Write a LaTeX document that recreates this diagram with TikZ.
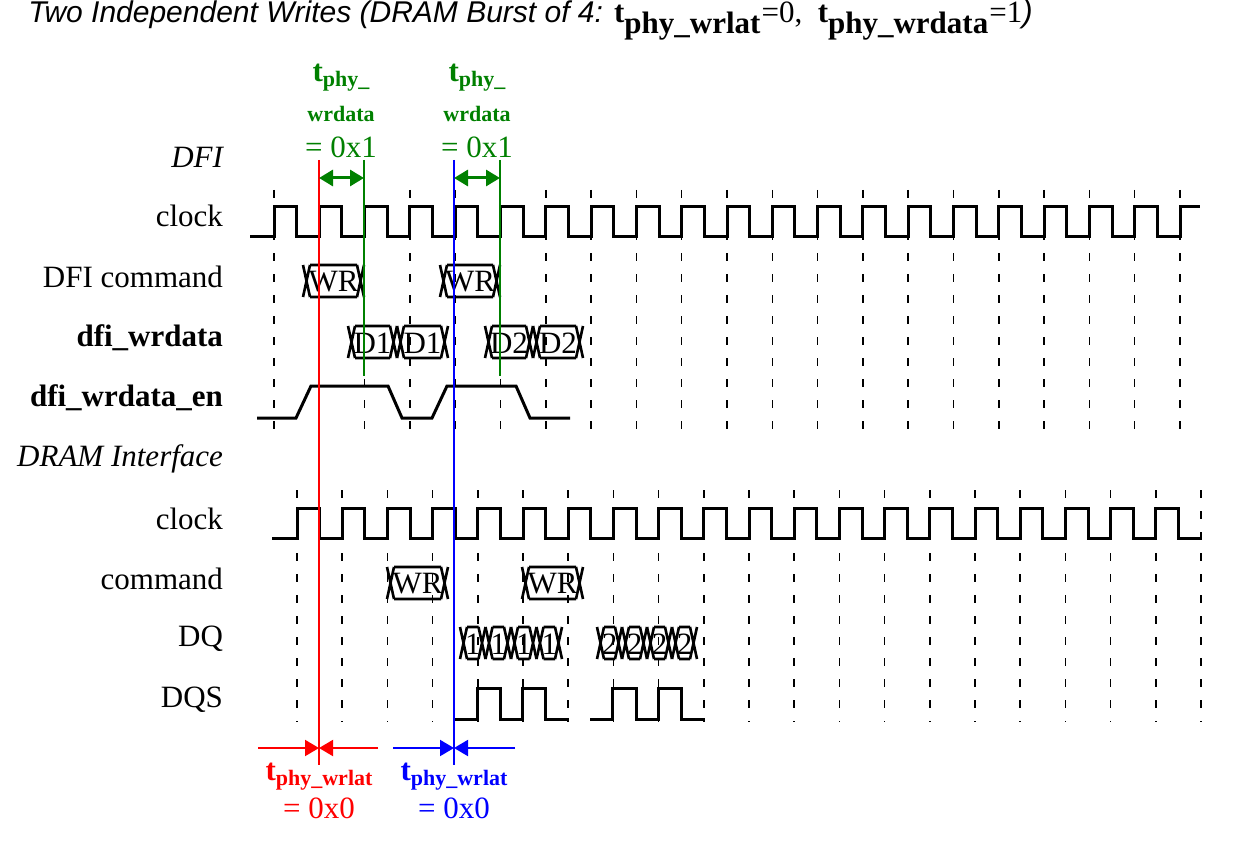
\documentclass[tikz,border=0pt]{standalone}
\usepackage{fontspec}
\setmainfont{Liberation Serif}
\newfontfamily\titlefont{Liberation Sans}
\usetikzlibrary{arrows.meta}
\definecolor{dkgreen}{RGB}{0,128,0}

% one bus value with crossing ends: x1, x2, top, text
\newcommand{\busseg}[4]{%
  \draw[sig,line width=1.3pt] (#1,#3) -- (#1+7,#3+32) (#1,#3+32) -- (#1+7,#3)
    (#1+7,#3) -- (#2-7,#3) (#1+7,#3+32) -- (#2-7,#3+32)
    (#2-7,#3) -- (#2,#3+32) (#2-7,#3+32) -- (#2,#3);
  \node[lbl,inner sep=0pt] at ({(#1+#2)/2},#3+17) {#4};%
}

\begin{document}
\begin{tikzpicture}[x=0.5pt,y=-0.5pt,
  sig/.style={line width=1.5pt},
  tick/.style={line width=0.75pt,dash pattern=on 4pt off 6.5pt},
  lbl/.style={font=\fontsize{15.5}{18}\selectfont},
  signame/.style={lbl,anchor=east},
  small/.style={font=\fontsize{11}{13}\selectfont\bfseries}]
  \useasboundingbox (0,0) rectangle (1245,850);

  % title
  \node[anchor=west,inner sep=0pt] (title) at (28,20)
    {\titlefont\fontsize{15}{18}\selectfont\itshape Two Independent Writes (DRAM Burst of 4:
     \upshape\rmfamily\fontsize{15.5}{18}\selectfont$\textbf{t}_{\textbf{phy\_wrlat}}$=0,\ \ $\textbf{t}_{\textbf{phy\_wrdata}}$=1\itshape\titlefont)};

  % signal names
  \node[signame,font=\fontsize{15.5}{18}\selectfont\itshape] (ndfi) at (230,157) {DFI};
  \node[signame] (nclk) at (230,216) {clock};
  \node[signame] (ncmd) at (230,277) {DFI command};
  \node[signame,font=\fontsize{15.5}{18}\selectfont\bfseries] (nwd) at (230,338) {dfi\_wrdata};
  \node[signame,font=\fontsize{15.5}{18}\selectfont\bfseries] (nwden) at (230,398) {dfi\_wrdata\_en};
  \node[signame,font=\fontsize{15.5}{18}\selectfont\itshape] (ndram) at (230,459) {DRAM Interface};
  \node[signame] (nclk2) at (230,519) {clock};
  \node[signame] (ncmd2) at (230,579) {command};
  \node[signame] (ndq) at (230,639) {DQ};
  \node[signame] (ndqs) at (230,700) {DQS};

  % clock edges
  \foreach \k in {0,...,20} {
    \draw[tick] (274+45.3*\k,190) -- (274+45.3*\k,432);
    \draw[tick] (297+45.2*\k,490) -- (297+45.2*\k,722);
  }

  % DFI clock
  \draw[sig] (250,236) \foreach \k in {0,...,19} {
      -- (274+45.3*\k,236) -- (274+45.3*\k,206) -- (296.6+45.3*\k,206) -- (296.6+45.3*\k,236)}
    -- (1180,236) -- (1180,206) -- (1200,206);

  % DRAM clock
  \draw[sig] (272,538) \foreach \k in {0,...,19} {
      -- (297+45.2*\k,538) -- (297+45.2*\k,508) -- (319.6+45.2*\k,508) -- (319.6+45.2*\k,538)}
    -- (1200,538);

  % DFI command and data
  \busseg{303}{364}{265}{WR}
  \busseg{440}{500}{265}{WR}
  \busseg{348}{397}{326}{D1}
  \busseg{397}{448}{326}{D1}
  \busseg{485}{533}{326}{D2}
  \busseg{533}{583}{326}{D2}

  % dfi_wrdata_en
  \draw[sig] (257,418) -- (296,418) -- (311,386) -- (388,386) -- (402,418)
    -- (432,418) -- (447,386) -- (516,386) -- (530,418) -- (570,418);

  % DRAM command, DQ
  \busseg{387}{448}{567}{WR}
  \busseg{522}{583}{567}{WR}
  \foreach \a/\b in {460/485.5,485.5/511,511/536.5,536.5/562} {\busseg{\a}{\b}{627}{1}}
  \foreach \a/\b in {597/622,622/647,647/672,672/697} {\busseg{\a}{\b}{627}{2}}

  % DQS
  \draw[sig] (454,719) -- (477,719) -- (477,688) -- (500,688) -- (500,719) -- (522,719)
    -- (522,688) -- (545,688) -- (545,719) -- (569,719);
  \draw[sig] (590,719) -- (612,719) -- (612,688) -- (636,688) -- (636,719) -- (658,719)
    -- (658,688) -- (681,688) -- (681,719) -- (705,719);

  % latency markers
  \coordinate (rtop) at (319,160);  \coordinate (rbot) at (319,765);
  \coordinate (btop) at (454,160);  \coordinate (bbot) at (454,765);
  \coordinate (g1top) at (364,160); \coordinate (g1bot) at (364,376);
  \coordinate (g2top) at (500,160); \coordinate (g2bot) at (500,376);
  \draw[red,line width=1pt] (rtop) -- (rbot);
  \draw[blue,line width=1pt] (btop) -- (bbot);
  \draw[dkgreen,line width=1pt] (g1top) -- (g1bot);
  \draw[dkgreen,line width=1pt] (g2top) -- (g2bot);

  \coordinate (ga1) at (319,178); \coordinate (gb1) at (364,178);
  \coordinate (ga2) at (454,178); \coordinate (gb2) at (500,178);
  \draw[dkgreen,line width=1.5pt,{Triangle[length=7pt,width=8pt]}-{Triangle[length=7pt,width=8pt]}] (ga1) -- (gb1);
  \draw[dkgreen,line width=1.5pt,{Triangle[length=7pt,width=8pt]}-{Triangle[length=7pt,width=8pt]}] (ga2) -- (gb2);

  \foreach \x/\n in {341/g1,477/g2} {
    \node[dkgreen,font=\fontsize{15.5}{18}\selectfont\bfseries,inner sep=0pt] (\n t) at (\x,78)
      {t\raisebox{-0.35ex}{\fontsize{11}{13}\selectfont phy\_}};
    \node[dkgreen,small,inner sep=0pt] (\n w) at (\x,114) {wrdata};
    \node[dkgreen,lbl,inner sep=0pt] (\n v) at (\x,147) {= 0x1};
  }

  \coordinate (rl) at (258,748); \coordinate (rr) at (378,748); \coordinate (rm) at (319,748);
  \coordinate (bl) at (393,748); \coordinate (br) at (515,748); \coordinate (bm) at (454,748);
  \draw[red,line width=1pt,-{Triangle[length=7pt,width=8pt]}] (rl) -- (rm);
  \draw[red,line width=1pt,-{Triangle[length=7pt,width=8pt]}] (rr) -- (rm);
  \draw[blue,line width=1pt,-{Triangle[length=7pt,width=8pt]}] (bl) -- (bm);
  \draw[blue,line width=1pt,-{Triangle[length=7pt,width=8pt]}] (br) -- (bm);

  \foreach \x/\c/\n in {319/red/rlab,454/blue/blab} {
    \node[\c,font=\fontsize{15.5}{18}\selectfont\bfseries,inner sep=0pt] (\n t) at (\x,777)
      {t\raisebox{-0.35ex}{\fontsize{11}{13}\selectfont phy\_wrlat}};
    \node[\c,lbl,inner sep=0pt] (\n v) at (\x,808) {= 0x0};
  }
\end{tikzpicture}
\end{document}
